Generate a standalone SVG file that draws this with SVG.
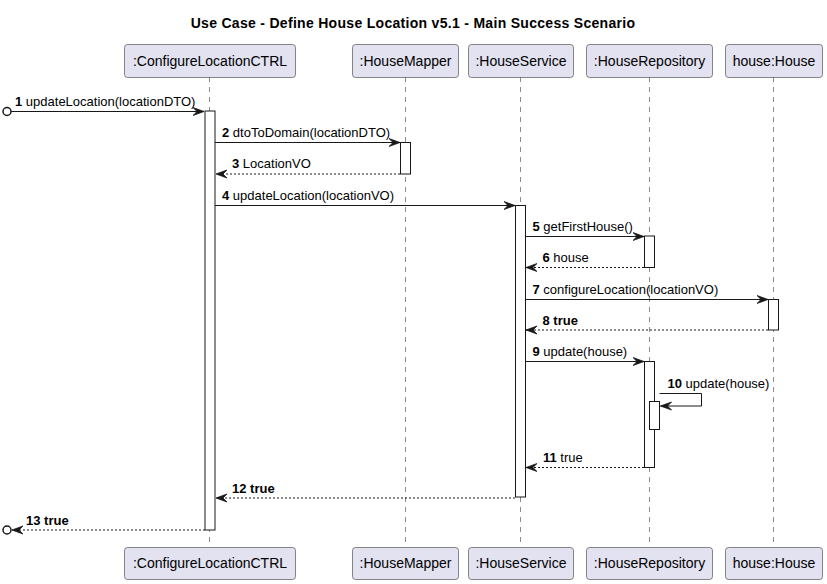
<svg xmlns="http://www.w3.org/2000/svg" width="827" height="584" viewBox="0 0 827 584">
<style>
text{font-family:"Liberation Sans",Arial,sans-serif;fill:#000}
.title{font-size:14px;font-weight:bold;letter-spacing:0.3px}
.pt{font-size:14px}
.msg{font-size:13px}
.b{font-weight:bold}
.box{fill:#E2E2F0;stroke:#181818;stroke-width:0.5}
.life{stroke:#181818;stroke-width:0.5;stroke-dasharray:5,5;fill:none}
.act{fill:#FFFFFF;stroke:#181818;stroke-width:1}
.sync{stroke:#181818;stroke-width:1;fill:none}
.ret{stroke:#181818;stroke-width:1;stroke-dasharray:2,2;fill:none}
.circ{fill:none;stroke:#181818;stroke-width:1.5}
</style>
<defs>
<marker id="ah" viewBox="0 0 12 10" refX="11" refY="5" markerWidth="12" markerHeight="10" markerUnits="userSpaceOnUse" orient="auto">
<polygon points="0,1 11,5 0,9 4,5" fill="#181818" stroke="#181818" stroke-width="0.8"/>
</marker>
</defs>
<rect width="827" height="584" fill="#FFFFFF"/>
<text class="title" x="413" y="28" text-anchor="middle">Use Case - Define House Location v5.1 - Main Success Scenario</text>

<g id="lifelines">
<line class="life" x1="209.5" y1="77" x2="209.5" y2="547"/>
<line class="life" x1="405.5" y1="77" x2="405.5" y2="547"/>
<line class="life" x1="520.5" y1="77" x2="520.5" y2="547"/>
<line class="life" x1="649.5" y1="77" x2="649.5" y2="547"/>
<line class="life" x1="773.5" y1="77" x2="773.5" y2="547"/>
</g>

<g id="p-ctrl">
<rect class="box" x="124.5" y="44.5" width="171" height="33" rx="3"/>
<text class="pt" x="210" y="66" text-anchor="middle">:ConfigureLocationCTRL</text>
<rect class="box" x="124.5" y="547.5" width="171" height="32" rx="3"/>
<text class="pt" x="210" y="568" text-anchor="middle">:ConfigureLocationCTRL</text>
</g>
<g id="p-mapper">
<rect class="box" x="352.5" y="44.5" width="106" height="33" rx="3"/>
<text class="pt" x="405.5" y="66" text-anchor="middle">:HouseMapper</text>
<rect class="box" x="352.5" y="547.5" width="106" height="32" rx="3"/>
<text class="pt" x="405.5" y="568" text-anchor="middle">:HouseMapper</text>
</g>
<g id="p-service">
<rect class="box" x="468.5" y="44.5" width="105" height="33" rx="3"/>
<text class="pt" x="521" y="66" text-anchor="middle">:HouseService</text>
<rect class="box" x="468.5" y="547.5" width="105" height="32" rx="3"/>
<text class="pt" x="521" y="568" text-anchor="middle">:HouseService</text>
</g>
<g id="p-repo">
<rect class="box" x="586.5" y="44.5" width="126" height="33" rx="3"/>
<text class="pt" x="649.5" y="66" text-anchor="middle">:HouseRepository</text>
<rect class="box" x="586.5" y="547.5" width="126" height="32" rx="3"/>
<text class="pt" x="649.5" y="568" text-anchor="middle">:HouseRepository</text>
</g>
<g id="p-house">
<rect class="box" x="725.5" y="44.5" width="97" height="33" rx="3"/>
<text class="pt" x="774" y="66" text-anchor="middle">house:House</text>
<rect class="box" x="725.5" y="547.5" width="97" height="32" rx="3"/>
<text class="pt" x="774" y="568" text-anchor="middle">house:House</text>
</g>

<g id="activations">
<rect class="act" x="205" y="111" width="10" height="419"/>
<rect class="act" x="400.5" y="142.5" width="10" height="31.5"/>
<rect class="act" x="515.5" y="205.5" width="10" height="291.5"/>
<rect class="act" x="644.5" y="236" width="10" height="31.5"/>
<rect class="act" x="768.5" y="299.5" width="10" height="30.5"/>
<rect class="act" x="644.5" y="361.5" width="10" height="106"/>
<rect class="act" x="649.5" y="401.5" width="10" height="28"/>
</g>

<g id="connectors">
<circle class="circ" cx="7" cy="111.5" r="4"/>
<line class="sync" x1="11" y1="111.5" x2="204" y2="111.5" marker-end="url(#ah)"/>
<line class="sync" x1="215" y1="142.5" x2="400" y2="142.5" marker-end="url(#ah)"/>
<line class="ret" x1="400" y1="174" x2="216" y2="174" marker-end="url(#ah)"/>
<line class="sync" x1="215" y1="205.5" x2="515" y2="205.5" marker-end="url(#ah)"/>
<line class="sync" x1="525.5" y1="236.5" x2="644" y2="236.5" marker-end="url(#ah)"/>
<line class="ret" x1="644" y1="267.5" x2="526" y2="267.5" marker-end="url(#ah)"/>
<line class="sync" x1="525.5" y1="299.5" x2="768" y2="299.5" marker-end="url(#ah)"/>
<line class="ret" x1="768" y1="330" x2="526" y2="330" marker-end="url(#ah)"/>
<line class="sync" x1="525.5" y1="361.5" x2="644" y2="361.5" marker-end="url(#ah)"/>
<polyline class="sync" points="659.5,393.5 701.5,393.5 701.5,406 660.5,406" marker-end="url(#ah)"/>
<line class="ret" x1="644" y1="467.5" x2="526" y2="467.5" marker-end="url(#ah)"/>
<line class="ret" x1="515" y1="498" x2="216" y2="498" marker-end="url(#ah)"/>
<line class="ret" x1="205" y1="530" x2="12" y2="530" marker-end="url(#ah)"/>
<circle class="circ" cx="7" cy="530" r="4"/>
</g>

<g id="labels">
<text class="msg" x="15" y="106"><tspan class="b">1</tspan> updateLocation(locationDTO)</text>
<text class="msg" x="222" y="137"><tspan class="b">2</tspan> dtoToDomain(locationDTO)</text>
<text class="msg" x="232" y="168"><tspan class="b">3</tspan> LocationVO</text>
<text class="msg" x="222" y="200"><tspan class="b">4</tspan> updateLocation(locationVO)</text>
<text class="msg" x="532.5" y="231"><tspan class="b">5</tspan> getFirstHouse()</text>
<text class="msg" x="542.5" y="262"><tspan class="b">6</tspan> house</text>
<text class="msg" x="532.5" y="294"><tspan class="b">7</tspan> configureLocation(locationVO)</text>
<text class="msg" x="542.5" y="324.5"><tspan class="b">8 true</tspan></text>
<text class="msg" x="532.5" y="356"><tspan class="b">9</tspan> update(house)</text>
<text class="msg" x="667.5" y="388"><tspan class="b">10</tspan> update(house)</text>
<text class="msg" x="543" y="462"><tspan class="b">11</tspan> true</text>
<text class="msg" x="232" y="492.5"><tspan class="b">12 true</tspan></text>
<text class="msg" x="26" y="524.5"><tspan class="b">13 true</tspan></text>
</g>
</svg>
